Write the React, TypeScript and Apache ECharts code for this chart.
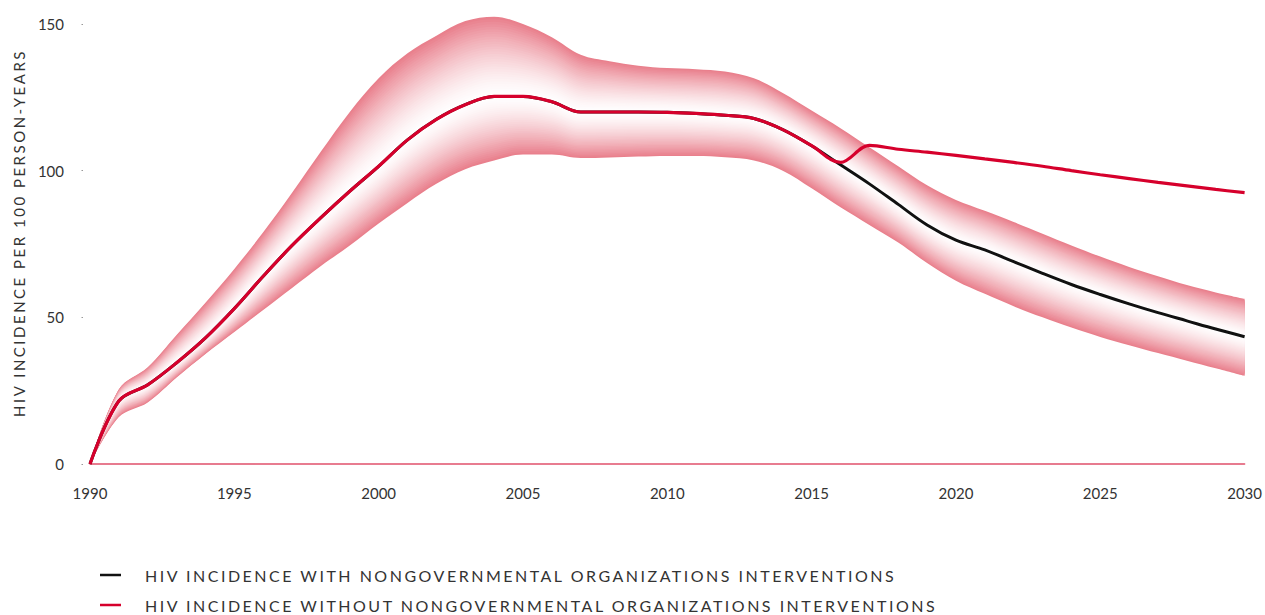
import React, { useEffect, useRef } from 'react';
import * as echarts from 'echarts';

const years = [
  1990, 1991, 1992, 1993, 1994, 1995, 1996, 1997, 1998, 1999,
  2000, 2001, 2002, 2003, 2004, 2005, 2006, 2007, 2008, 2009,
  2010, 2011, 2012, 2013, 2014, 2015, 2016, 2017, 2018, 2019,
  2020, 2021, 2022, 2023, 2024, 2025, 2026, 2027, 2028, 2029, 2030,
];

// HIV incidence with NGO interventions (black line, centre of the band)
const withNgo = [
  0, 21.5, 27, 34.5, 43, 53, 64, 74.5, 84, 93,
  101.5, 110.5, 117.5, 122.5, 125.3, 125.3, 123.5, 120, 120, 120,
  119.9, 119.5, 118.9, 117.8, 114, 108.5, 102, 95.5, 88.5, 81.5,
  76.3, 73, 69, 65, 61.2, 57.8, 54.6, 51.6, 48.8, 46, 43.4,
];

// HIV incidence without NGO interventions (red line)
const withoutNgo = [
  0, 21.5, 27, 34.5, 43, 53, 64, 74.5, 84, 93,
  101.5, 110.5, 117.5, 122.5, 125.3, 125.3, 123.5, 120, 120, 120,
  119.9, 119.5, 118.9, 117.8, 114, 108.5, 102.8, 108.6, 107.3, 106.3,
  105.2, 104, 102.8, 101.5, 100, 98.6, 97.3, 96, 94.8, 93.6, 92.5,
];

// uncertainty band
const upperBound = [
  0, 25.5, 33, 44, 55, 66.5, 79, 92.5, 106.5, 120,
  131.5, 140, 146, 151, 152.5, 150, 145.5, 139.5, 137.3, 135.8,
  135, 134.6, 133.8, 131.5, 126.5, 120.5, 114.5, 108, 101.5, 95,
  90, 86.3, 82.5, 78.5, 74.5, 70.7, 67.2, 64, 61, 58.5, 56.3,
];
const lowerBound = [
  0, 16, 21, 29.5, 37.5, 45, 52.5, 60, 67.5, 74.5,
  82, 89, 95.5, 100.5, 103.5, 105.5, 105.5, 104.3, 104.5, 104.8,
  105, 105, 104.6, 103.5, 100, 94, 87.5, 81.5, 75.5, 68.5,
  62.5, 58, 53.8, 50, 46.5, 43.3, 40.5, 37.8, 35.2, 32.6, 30,
];

const NAME_WITH = 'HIV INCIDENCE WITH NONGOVERNMENTAL ORGANIZATIONS INTERVENTIONS';
const NAME_WITHOUT = 'HIV INCIDENCE WITHOUT NONGOVERNMENTAL ORGANIZATIONS INTERVENTIONS';
const AXIS_NAME = 'HIV INCIDENCE PER 100 PERSON-YEARS';

const PINK = [233, 128, 141];
const SPACED_FONT = 'Lato, Noto Sans';
const PLAIN_FONT = 'Lato';

function bandSeries() {
  const N = 32;
  const out: any[] = [];
  for (let k = 0; k < N; k++) {
    const f = (N - k) / N;
    const t = Math.pow(f, 1.5);
    const c = PINK.map((p) => Math.round(255 + (p - 255) * t));
    const color = `rgb(${c[0]},${c[1]},${c[2]})`;
    const lo = years.map((_, i) => withNgo[i] - f * (withNgo[i] - lowerBound[i]));
    const hi = years.map((_, i) => withNgo[i] + f * (upperBound[i] - withNgo[i]));
    const stack = 'band' + k;
    out.push({
      type: 'line',
      stack,
      data: lo,
      smooth: 0.35,
      showSymbol: false,
      silent: true,
      clip: false,
      lineStyle: { opacity: 0, width: 0 },
      z: 1,
    });
    out.push({
      type: 'line',
      stack,
      data: hi.map((h, i) => h - lo[i]),
      smooth: 0.35,
      showSymbol: false,
      silent: true,
      clip: false,
      lineStyle: { opacity: 0, width: 0 },
      areaStyle: { color, opacity: 1 },
      z: 1,
    });
  }
  return out;
}

const legendCommon = {
  orient: 'horizontal',
  left: 100,
  padding: 0,
  icon: 'rect',
  itemWidth: 21,
  itemHeight: 2.5,
  selectedMode: false,
  textStyle: {
    fontSize: 16,
    color: '#333',
    fontFamily: SPACED_FONT,
    padding: [0, 0, 0, 19],
  },
};

export default function App() {
  const ref = useRef<HTMLDivElement>(null);
  useEffect(() => {
    if (!ref.current) return;
    const chart = echarts.init(ref.current, undefined, { renderer: 'svg' });
    chart.setOption({
      animation: false,
      textStyle: { fontFamily: PLAIN_FONT },
      grid: { left: 90, right: 17, top: 24, bottom: 151 },
      legend: [
        { ...legendCommon, top: 567, data: [NAME_WITH] },
        { ...legendCommon, top: 597, data: [NAME_WITHOUT] },
      ],
      graphic: [
        {
          type: 'text',
          x: 19,
          y: 233,
          rotation: Math.PI / 2,
          silent: true,
          style: {
            text: AXIS_NAME,
            fontSize: 15,
            fill: '#333',
            fontFamily: SPACED_FONT,
            align: 'center',
            verticalAlign: 'middle',
          },
        },
      ],
      xAxis: {
        type: 'category',
        data: years.map(String),
        boundaryGap: false,
        axisLine: { show: true, lineStyle: { color: '#e0506b', width: 1.5 } },
        axisTick: { show: false },
        axisLabel: {
          interval: 4,
          color: '#333',
          fontSize: 15,
          margin: 21,
          fontFamily: PLAIN_FONT,
        },
        splitLine: { show: false },
        z: 0,
      },
      yAxis: {
        type: 'value',
        min: 0,
        max: 150,
        interval: 50,
        offset: 7,
        axisLine: { show: false },
        axisTick: { show: true, length: 1.5, lineStyle: { color: '#999' } },
        axisLabel: { color: '#333', fontSize: 15, margin: 19, fontFamily: PLAIN_FONT },
        splitLine: { show: false },
      },
      series: [
        ...bandSeries(),
        {
          name: NAME_WITH,
          type: 'line',
          data: withNgo,
          smooth: 0.35,
          showSymbol: false,
          color: '#111111',
          lineStyle: { color: '#111111', width: 3 },
          z: 5,
        },
        {
          name: NAME_WITHOUT,
          type: 'line',
          data: withoutNgo,
          smooth: 0.35,
          showSymbol: false,
          color: '#d6002c',
          lineStyle: { color: '#d6002c', width: 3.2 },
          z: 6,
        },
      ],
    });
    return () => chart.dispose();
  }, []);
  return (
    <>
      <style>{`.chartbox text[style*="Noto"] { letter-spacing: 2.5px; }`}</style>
      <div
        ref={ref}
        className="chartbox"
        style={{ position: 'absolute', left: 0, top: 0, width: 1265, height: 615 }}
      />
    </>
  );
}
